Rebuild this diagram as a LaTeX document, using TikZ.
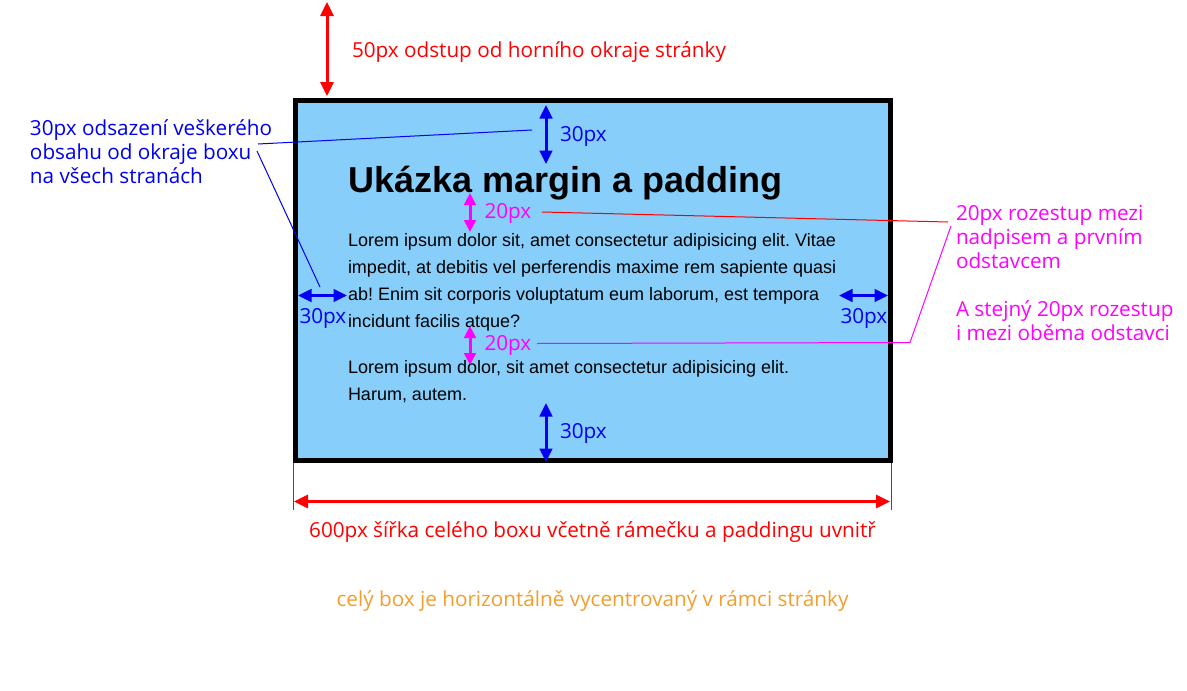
\documentclass[tikz,border=0pt]{standalone}
\usepackage{fontspec}
\setmainfont{Open Sans}
\newfontfamily\arialf{Liberation Sans}
\usetikzlibrary{arrows.meta}
\definecolor{boxfill}{HTML}{87CEFA}
\definecolor{orng}{HTML}{F29E2E}
\definecolor{nblue}{HTML}{0000F0}
\definecolor{nred}{HTML}{FF0000}
\definecolor{nmag}{HTML}{FF00FF}
\begin{document}
\frenchspacing
\begin{tikzpicture}[x=1pt,y=-1pt,
  note/.style={font=\fontsize{20.7}{24}\selectfont, anchor=base west, inner sep=0pt, outer sep=0pt, align=left},
  boxtext/.style={font=\arialf\fontsize{18}{27}\selectfont, anchor=base west, inner sep=0pt, outer sep=0pt, align=left},
  dimarrow/.style={line width=3pt, {Triangle[width=13pt,length=14pt]}-{Triangle[width=13pt,length=14pt]}},
  smallarrow/.style={line width=3pt, {Triangle[width=12.5pt,length=13.5pt]}-{Triangle[width=12.5pt,length=13.5pt]}},
  magarrow/.style={line width=3pt, {Triangle[width=11.5pt,length=12pt]}-{Triangle[width=11.5pt,length=12pt]}},
  leader/.style={line width=1pt},
  tick/.style={line width=1pt, nred}
]
\useasboundingbox (0,0) rectangle (1187,691);

% the box
\draw[line width=5pt, fill=boxfill] (295.5,100.5) rectangle (890,460.8);

% content (multi-line nodes: base anchor = last line's baseline)
\node[anchor=base west, inner sep=0pt, font=\arialf\bfseries\fontsize{36}{40}\selectfont] (title) at (348,192) {Ukázka margin a padding};
\node[boxtext] (p1) at (348,327) {Lorem ipsum dolor sit, amet consectetur adipisicing elit. Vitae\\impedit, at debitis vel perferendis maxime rem sapiente quasi\\ab! Enim sit corporis voluptatum eum laborum, est tempora\\incidunt facilis atque?};
\node[boxtext] (p2) at (348,400) {Lorem ipsum dolor, sit amet consectetur adipisicing elit.\\Harum, autem.};

% top margin arrow
\coordinate (mt1) at (327,2);
\coordinate (mt2) at (327,96);
\draw[dimarrow, nred] (mt1) -- (mt2);
\node[note, text=nred] (mtlabel) at (352,57) {50px odstup od horního okraje stránky};

% padding arrows
\coordinate (pt1) at (546,105);
\coordinate (pt2) at (546,164);
\draw[smallarrow, nblue] (pt1) -- (pt2);
\node[note, text=nblue] (ptlabel) at (560,141.5) {30px};

\coordinate (pb1) at (546,403);
\coordinate (pb2) at (546,462);
\draw[smallarrow, nblue] (pb1) -- (pb2);
\node[note, text=nblue] (pblabel) at (560,438.5) {30px};

\coordinate (pl1) at (298,295.5);
\coordinate (pl2) at (347,295.5);
\draw[smallarrow, nblue] (pl1) -- (pl2);
\node[note, text=nblue] (pllabel) at (299.5,323) {30px};

\coordinate (pr1) at (839,295.5);
\coordinate (pr2) at (888,295.5);
\draw[smallarrow, nblue] (pr1) -- (pr2);
\node[note, text=nblue] (prlabel) at (840.5,323) {30px};

% spacing arrows
\coordinate (s11) at (470,193);
\coordinate (s12) at (470,232);
\draw[magarrow, nmag] (s11) -- (s12);
\node[note, text=nmag] (s1label) at (484.5,218.5) {20px};

\coordinate (s21) at (470,326);
\coordinate (s22) at (470,365);
\draw[magarrow, nmag] (s21) -- (s22);
\node[note, text=nmag] (s2label) at (484.5,350.5) {20px};

% blue note
\node[note, text=nblue] (bluenote) at (30,183) {30px odsazení veškerého\\obsahu od okraje boxu\\na všech stranách};
\coordinate (bl1a) at (258,144);
\coordinate (bl1b) at (532,130);
\coordinate (bl2a) at (257,151);
\coordinate (bl2b) at (320,287);
\draw[leader, nblue] (bl1a) -- (bl1b);
\draw[leader, nblue] (bl2a) -- (bl2b);

% magenta note
\node[note, text=nmag] (magnote1) at (956,268.5) {20px rozestup mezi\\nadpisem a prvním\\odstavcem};
\node[note, text=nmag] (magnote2) at (956,340) {A stejný 20px rozestup\\i mezi oběma odstavci};
\coordinate (rl1) at (542,212);
\coordinate (rl2) at (948,222);
\draw[leader, nred] (rl1) -- (rl2);
\coordinate (ml1) at (537,343.5);
\coordinate (ml2) at (910,342.5);
\coordinate (ml3) at (951,226);
\draw[leader, nmag] (ml1) -- (ml2) -- (ml3);

% width dimension
\coordinate (wt1a) at (293,463);
\coordinate (wt1b) at (293,510);
\coordinate (wt2a) at (891,463);
\coordinate (wt2b) at (891,510);
\draw[tick] (wt1a) -- (wt1b);
\draw[tick] (wt2a) -- (wt2b);
\coordinate (w1) at (294,501.5);
\coordinate (w2) at (890,501.5);
\draw[dimarrow, nred] (w1) -- (w2);
\node[anchor=base, inner sep=0pt, font=\fontsize{20.7}{24}\selectfont, text=nred] (wlabel) at (592.5,537.5) {600px šířka celého boxu včetně rámečku a paddingu uvnitř};

\node[anchor=base, inner sep=0pt, font=\fontsize{20.7}{24}\selectfont, text=orng] (center) at (592.5,606) {celý box je horizontálně vycentrovaný v rámci stránky};
\end{tikzpicture}
\end{document}
